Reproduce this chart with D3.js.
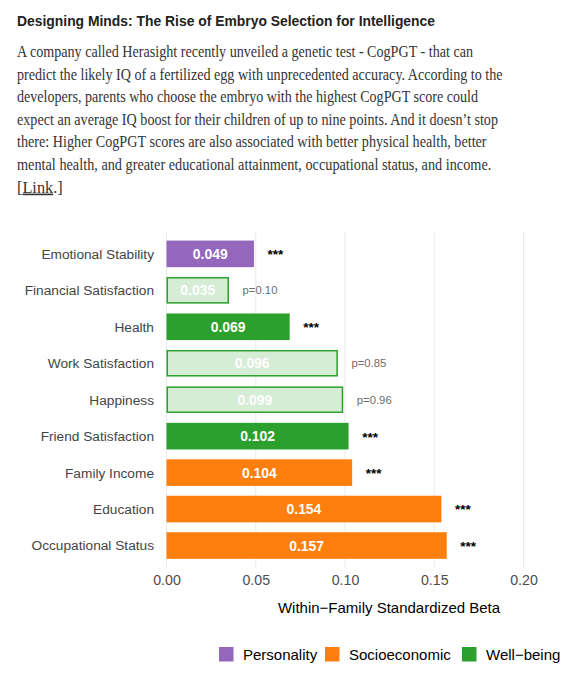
<!DOCTYPE html>
<html>
<head>
<meta charset="utf-8">
<script src="https://cdn.jsdelivr.net/npm/d3@7"></script>
<style>
  html, body { margin: 0; padding: 0; background: #fff; }
  svg { display: block; }
</style>
</head>
<body>
<svg id="chart" width="587" height="680"></svg>
<script>
// ---- data ----
const titleText = "Designing Minds: The Rise of Embryo Selection for Intelligence";
const bodyLines = [
  "A company called Herasight recently unveiled a genetic test - CogPGT - that can",
  "predict the likely IQ of a fertilized egg with unprecedented accuracy. According to the",
  "developers, parents who choose the embryo with the highest CogPGT score could",
  "expect an average IQ boost for their children of up to nine points. And it doesn\u2019t stop",
  "there: Higher CogPGT scores are also associated with better physical health, better",
  "mental health, and greater educational attainment, occupational status, and income."
];
const outcomes = ["Emotional Stability", "Financial Satisfaction", "Health", "Work Satisfaction",
  "Happiness", "Friend Satisfaction", "Family Income", "Education", "Occupational Status"];
const betas = [0.049, 0.035, 0.069, 0.096, 0.099, 0.102, 0.104, 0.154, 0.157];
const domains = ["Personality", "Well\u2212being", "Well\u2212being", "Well\u2212being", "Well\u2212being",
  "Well\u2212being", "Socioeconomic", "Socioeconomic", "Socioeconomic"];
const significant = [true, false, true, false, false, true, true, true, true];
const sigLabels = ["***", "p=0.10", "***", "p=0.85", "p=0.96", "***", "***", "***", "***"];
const legendDomains = ["Personality", "Socioeconomic", "Well\u2212being"];
const domainColors = ["#9467bd", "#ff7f0e", "#2ca02c"];
const xTicks = [0, 0.05, 0.10, 0.15, 0.20];
const xTitle = "Within\u2212Family Standardized Beta";

// ---- layout ----
const svg = d3.select("#chart");
const F = "'Liberation Sans', Arial, Helvetica, sans-serif";

svg.append("text").attr("x", 17).attr("y", 26)
  .attr("font-family", F).attr("font-weight", "bold").attr("font-size", 15.5)
  .attr("fill", "#222").attr("textLength", 418).attr("lengthAdjust", "spacingAndGlyphs")
  .text(titleText);

const bodyWidths = [456, 485.6, 461, 481, 469.6, 474.3];
bodyLines.forEach((l, i) => {
  svg.append("text").attr("x", 17).attr("y", 57 + i * 22.6)
    .attr("font-family", "'Liberation Serif', 'DejaVu Serif', serif").attr("font-size", 16.3)
    .attr("fill", "#333").attr("textLength", bodyWidths[i]).attr("lengthAdjust", "spacingAndGlyphs")
    .text(l);
});
const linkT = svg.append("text").attr("x", 17).attr("y", 57 + 6 * 22.6)
  .attr("font-family", "'Liberation Serif', 'DejaVu Serif', serif").attr("font-size", 16.3)
  .attr("fill", "#333");
linkT.append("tspan").text("[");
linkT.append("tspan").attr("text-decoration", "underline").text("Link");
linkT.append("tspan").text(".]");

const color = d3.scaleOrdinal().domain(legendDomains).range(domainColors);
const x = d3.scaleLinear().domain([0, 0.2]).range([166.5, 523.5]);
const y = d3.scaleBand().domain(outcomes).range([232, 567.4]).paddingInner(0.27).paddingOuter(0.235);

// gridlines
svg.append("g").selectAll("line").data(xTicks).join("line")
  .attr("x1", d => x(d)).attr("x2", d => x(d))
  .attr("y1", 232).attr("y2", 567.4)
  .attr("stroke", "#ebebeb").attr("stroke-width", 1.1);

const rows = outcomes.map((o, i) => ({ o, v: betas[i], d: domains[i], s: significant[i], lab: sigLabels[i] }));

// bars
svg.append("g").selectAll("rect").data(rows).join("rect")
  .attr("x", d => x(0) + (d.s ? 0 : 0.75))
  .attr("y", d => y(d.o) + (d.s ? 0 : 0.75))
  .attr("width", d => x(d.v) - x(0) - (d.s ? 0 : 1.5))
  .attr("height", d => y.bandwidth() - (d.s ? 0 : 1.5))
  .attr("fill", d => d.s ? color(d.d) : "#d5ecd5")
  .attr("stroke", d => d.s ? "none" : color(d.d))
  .attr("stroke-width", 1.5);

// values in bars
svg.append("g").selectAll("text").data(rows).join("text")
  .attr("x", d => (x(0) + x(d.v)) / 2)
  .attr("y", d => y(d.o) + y.bandwidth() / 2)
  .attr("dy", "0.36em").attr("text-anchor", "middle")
  .attr("font-family", F).attr("font-weight", "bold").attr("font-size", 13.9)
  .attr("fill", "#fff")
  .text(d => d.v.toFixed(3));

// significance labels
svg.append("g").selectAll("text").data(rows).join("text")
  .attr("x", d => x(d.v) + 13.6)
  .attr("y", d => y(d.o) + y.bandwidth() / 2)
  .attr("dy", d => d.s ? "0.4em" : "0.36em")
  .attr("font-family", F)
  .attr("font-weight", d => d.s ? "bold" : "normal")
  .attr("font-size", d => d.s ? 13.5 : 11.3)
  .attr("fill", d => d.s ? "#000" : "#6e6e6e")
  .text(d => d.lab);

// y labels
svg.append("g").selectAll("text").data(outcomes).join("text")
  .attr("x", 154).attr("y", d => y(d) + y.bandwidth() / 2)
  .attr("dy", "0.36em").attr("text-anchor", "end")
  .attr("font-family", F).attr("font-size", 13.7).attr("fill", "#444")
  .text(d => d);

// x axis
const xAxis = svg.append("g").attr("transform", "translate(0,575)")
  .call(d3.axisBottom(x).tickValues(xTicks).tickFormat(d3.format(".2f")).tickSize(0).tickPadding(0));
xAxis.select(".domain").remove();
xAxis.selectAll("text").attr("font-family", F).attr("font-size", 14.2).attr("fill", "#4d4d4d")
  .attr("dy", "0.71em");

svg.append("text").attr("x", 389).attr("y", 613).attr("text-anchor", "middle")
  .attr("font-family", F).attr("font-size", 15).attr("fill", "#000").text(xTitle);

// legend
const legX = [219, 325, 462];
const leg = svg.append("g").selectAll("g").data(legendDomains).join("g")
  .attr("transform", (d, i) => `translate(${legX[i]},647)`);
leg.append("rect").attr("width", 14.5).attr("height", 14.5).attr("fill", d => color(d));
leg.append("text").attr("x", 24).attr("y", 7.25).attr("dy", "0.36em")
  .attr("font-family", F).attr("font-size", 15).attr("fill", "#000").text(d => d);
</script>
</body>
</html>
